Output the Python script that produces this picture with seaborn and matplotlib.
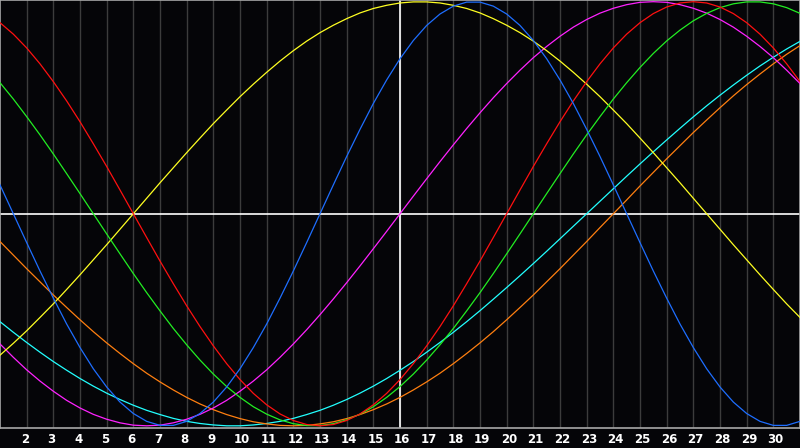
import numpy as np
import pandas as pd
import matplotlib
matplotlib.use("Agg")
import matplotlib.pyplot as plt
import matplotlib.transforms as mtrans
import seaborn as sns

# readings every half day, from day 1 to day 31
days = [1 + 0.5 * i for i in range(61)]

blue = [13.6, 0, -13.6, -27.0, -39.8, -52.0, -63.1, -73.1, -81.7, -88.8, -94.2, -97.9, -99.8,
        -99.8, -97.9, -94.2, -88.8, -81.7, -73.1, -63.1, -52.0, -39.8, -27.0, -13.6, 0, 13.6,
        27.0, 39.8, 52.0, 63.1, 73.1, 81.7, 88.8, 94.2, 97.9, 99.8, 99.8, 97.9, 94.2, 88.8, 81.7,
        73.1, 63.1, 52.0, 39.8, 27.0, 13.6, 0, -13.6, -27.0, -39.8, -52.0, -63.1, -73.1, -81.7,
        -88.8, -94.2, -97.9, -99.8, -99.8, -97.9]
red = [90.1, 84.7, 78.2, 70.7, 62.3, 53.2, 43.4, 33.0, 22.3, 11.2, 0, -11.2, -22.3, -33.0, -43.4,
       -53.2, -62.3, -70.7, -78.2, -84.7, -90.1, -94.4, -97.5, -99.4, -100.0, -99.4, -97.5, -94.4,
       -90.1, -84.7, -78.2, -70.7, -62.3, -53.2, -43.4, -33.0, -22.3, -11.2, 0, 11.2, 22.3, 33.0,
       43.4, 53.2, 62.3, 70.7, 78.2, 84.7, 90.1, 94.4, 97.5, 99.4, 100.0, 99.4, 97.5, 94.4, 90.1,
       84.7, 78.2, 70.7, 62.3]
green = [61.8, 54.1, 45.8, 37.2, 28.2, 18.9, 9.5, 0, -9.5, -18.9, -28.2, -37.2, -45.8, -54.1,
         -61.8, -69.0, -75.6, -81.5, -86.6, -91.0, -94.5, -97.2, -99.0, -99.9, -99.9, -99.0,
         -97.2, -94.5, -91.0, -86.6, -81.5, -75.6, -69.0, -61.8, -54.1, -45.8, -37.2, -28.2,
         -18.9, -9.5, 0, 9.5, 18.9, 28.2, 37.2, 45.8, 54.1, 61.8, 69.0, 75.6, 81.5, 86.6, 91.0,
         94.5, 97.2, 99.0, 99.9, 99.9, 99.0, 97.2, 94.5]
yellow = [-66.7, -61.1, -55.2, -48.9, -42.5, -35.7, -28.8, -21.7, -14.6, -7.3, 0, 7.3, 14.6,
          21.7, 28.8, 35.7, 42.5, 48.9, 55.2, 61.1, 66.7, 72.0, 76.9, 81.4, 85.4, 88.9, 92.0,
          94.7, 96.8, 98.3, 99.4, 99.9, 99.9, 99.4, 98.3, 96.8, 94.7, 92.0, 88.9, 85.4, 81.4,
          76.9, 72.0, 66.7, 61.1, 55.2, 48.9, 42.5, 35.7, 28.8, 21.7, 14.6, 7.3, 0, -7.3, -14.6,
          -21.7, -28.8, -35.7, -42.5, -48.9]
magenta = [-61.4, -67.7, -73.6, -78.9, -83.7, -88.0, -91.6, -94.6, -96.9, -98.6, -99.7, -100.0,
           -99.7, -98.6, -96.9, -94.6, -91.6, -88.0, -83.7, -78.9, -73.6, -67.7, -61.4, -54.7,
           -47.6, -40.2, -32.5, -24.6, -16.5, -8.3, 0, 8.3, 16.5, 24.6, 32.5, 40.2, 47.6, 54.7,
           61.4, 67.7, 73.6, 78.9, 83.7, 88.0, 91.6, 94.6, 96.9, 98.6, 99.7, 100.0, 99.7, 98.6,
           96.9, 94.6, 91.6, 88.0, 83.7, 78.9, 73.6, 67.7, 61.4]
cyan = [-50.9, -55.9, -60.7, -65.3, -69.7, -73.8, -77.7, -81.3, -84.6, -87.6, -90.3, -92.7,
        -94.7, -96.5, -97.9, -98.9, -99.6, -100.0, -100.0, -99.6, -98.9, -97.9, -96.5, -94.7,
        -92.7, -90.3, -87.6, -84.6, -81.3, -77.7, -73.8, -69.7, -65.3, -60.7, -55.9, -50.9,
        -45.7, -40.3, -34.8, -29.2, -23.5, -17.7, -11.8, -5.9, 0, 5.9, 11.8, 17.7, 23.5, 29.2,
        34.8, 40.3, 45.7, 50.9, 55.9, 60.7, 65.3, 69.7, 73.8, 77.7, 81.3]
orange = [-13.1, -19.5, -25.9, -32.1, -38.3, -44.2, -50.0, -55.6, -60.9, -65.9, -70.7, -75.2,
          -79.3, -83.1, -86.6, -89.7, -92.4, -94.7, -96.6, -98.1, -99.1, -99.8, -100.0, -99.8,
          -99.1, -98.1, -96.6, -94.7, -92.4, -89.7, -86.6, -83.1, -79.3, -75.2, -70.7, -65.9,
          -60.9, -55.6, -50.0, -44.2, -38.3, -32.1, -25.9, -19.5, -13.1, -6.5, 0, 6.5, 13.1,
          19.5, 25.9, 32.1, 38.3, 44.2, 50.0, 55.6, 60.9, 65.9, 70.7, 75.2, 79.3]

tick_days = list(range(2, 31))
tick_labels = [str(d) for d in tick_days]
today = 16

series = {
    "cyan": cyan,
    "orange": orange,
    "magenta": magenta,
    "yellow": yellow,
    "green": green,
    "red": red,
    "blue": blue,
}
palette = {
    "cyan": "#22ffff",
    "orange": "#ff7f10",
    "magenta": "#ff22ff",
    "yellow": "#ffff22",
    "green": "#22ee22",
    "red": "#ff1010",
    "blue": "#1e6eff",
}

rows = []
for name, vals in series.items():
    for d, v in zip(days, vals):
        rows.append({"day": d, "value": v, "curve": name})
df = pd.DataFrame(rows)

bg = "#050508"
fig = plt.figure(figsize=(8, 4.48), dpi=100, facecolor=bg)
ax = fig.add_axes([0, 1 - 427.5 / 448, 1, 427.5 / 448])
ax.set_facecolor(bg)

for d in tick_days:
    ax.axvline(d, color="#3c3c3c", lw=1.0, zorder=1)
ax.axvline(today, color="white", lw=1.2, zorder=2)
ax.axhline(0, color="white", lw=1.2, zorder=2)

sns.lineplot(data=df, x="day", y="value", hue="curve", palette=palette,
             linewidth=0.9, legend=False, ax=ax, zorder=3, sort=True)

ax.set_xlim(1, 31)
ax.set_ylim(-100.8, 100.8)
ax.set_xticks([])
ax.set_yticks([])
ax.set_xlabel("")
ax.set_ylabel("")
for s in ["top", "left", "bottom", "right"]:
    ax.spines[s].set_color("#a8a8a8")
    ax.spines[s].set_linewidth(1.2)

offset = mtrans.ScaledTranslation(-6 / 100, -11.5 / 100, fig.dpi_scale_trans)
for d, lab in zip(tick_days, tick_labels):
    ax.text(d, 0, lab, transform=ax.get_xaxis_transform() + offset,
            ha="left", va="center", color="white", fontsize=8.5,
            fontweight="bold", family=["DejaVu Sans"])

fig.savefig("out.png", dpi=100, facecolor=bg)
